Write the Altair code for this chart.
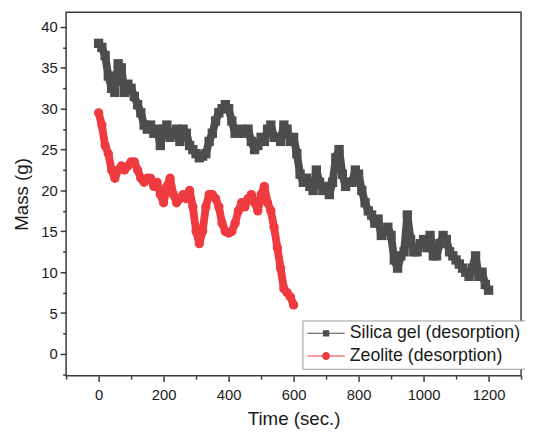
import altair as alt
import pandas as pd

SILICA = "Silica gel (desorption)"
ZEOLITE = "Zeolite (desorption)"

silica_time = list(range(0, 1201, 10))
silica_mass = [
    38, 37.5, 36.5, 34, 32.5, 32, 35.5, 35, 32, 33,
    32.5, 31.5, 30.5, 29.5, 28, 27.5, 28, 27, 27.5, 25.5,
    27.5, 28, 26.5, 27, 27.5, 26, 27.5, 27, 25.5, 25,
    24.5, 24, 24.2, 24.5, 26, 27, 28.5, 29.5, 30, 30.5,
    30, 28.5, 27, 27, 27.5, 27, 27.5, 26, 25, 25.5,
    26.5, 26, 27.5, 28, 26.5, 26.5, 26, 28, 27.5, 26,
    26.5, 24.5, 22, 21, 21.5, 20.5, 20, 22.5, 21, 20,
    20.5, 19.5, 21, 24, 25, 22, 20.5, 21, 21, 22.5,
    22, 20, 18.5, 17.5, 17, 16, 16.5, 14.5, 15, 15.5,
    14.5, 11.5, 10.5, 12, 12.5, 17, 14, 12.5, 12.5, 13.5,
    14, 13, 14.5, 12, 12, 13.5, 14.5, 14, 12.5, 12,
    11.5, 11, 10.5, 10, 9.5, 10.5, 12, 9.5, 10, 8.5,
    7.8,
]

zeolite_time = list(range(0, 601, 10))
zeolite_mass = [
    29.5, 28, 25.5, 24.5, 22.5, 21.5, 22.5, 23, 22.5, 23,
    23.5, 23.5, 22.5, 21.5, 21, 21.5, 21.5, 20.5, 21, 19.5,
    18.5, 20.5, 21.5, 19.5, 18.5, 19, 19.5, 19, 20, 18,
    15, 13.5, 15, 18, 19.5, 19.5, 19, 18, 16, 15,
    14.8, 15, 16, 17.5, 18.5, 18, 19, 19.5, 18.5, 17.5,
    19.5, 20.5, 18.5, 17.5, 15.5, 13, 10.5, 8, 7.5, 7,
    6,
]

x_ticks = [-100, 0, 100, 200, 300, 400, 500, 600, 700, 800, 900, 1000, 1100, 1200, 1300]
y_ticks = [-2.5, 0, 2.5, 5, 7.5, 10, 12.5, 15, 17.5, 20, 22.5, 25, 27.5, 30, 32.5, 35, 37.5, 40]

GRAY = "#4D4D4D"
RED = "#EF3B3F"
FONT = "Liberation Sans"
TXT = "#1a1a1a"
AX = "#3a3a3a"

df = pd.concat([
    pd.DataFrame({"time": silica_time, "mass": silica_mass, "series": SILICA}),
    pd.DataFrame({"time": zeolite_time, "mass": zeolite_mass, "series": ZEOLITE}),
], ignore_index=True)

x_enc = alt.X(
    "time:Q",
    title="Time (sec.)",
    scale=alt.Scale(domain=[-100, 1300], nice=False, zero=False),
    axis=alt.Axis(
        values=x_ticks, format="d",
        labelExpr="datum.value % 200 === 0 ? datum.label : ''",
        tickSize={"condition": {"test": "datum.value % 200 === 0", "value": 6}, "value": 3.5},
        tickWidth=1.5, tickColor=AX, domain=False, grid=False,
        labelFont=FONT, labelFontSize=15, labelColor=TXT, labelPadding=6,
        titleFont=FONT, titleFontSize=19, titleFontWeight="normal", titleColor=TXT,
        titlePadding=8,
    ),
)
y_enc = alt.Y(
    "mass:Q",
    title="Mass (g)",
    scale=alt.Scale(domain=[-2.65, 41.8], nice=False, zero=False),
    axis=alt.Axis(
        values=y_ticks,
        labelExpr="datum.value % 5 === 0 ? datum.label : ''",
        tickSize={"condition": {"test": "datum.value % 5 === 0", "value": 6}, "value": 3.5},
        tickWidth=1.5, tickColor=AX, domain=False, grid=False,
        labelFont=FONT, labelFontSize=15, labelColor=TXT, labelPadding=3,
        titleFont=FONT, titleFontSize=19, titleFontWeight="normal", titleColor=TXT,
        titlePadding=9,
    ),
)

base = alt.Chart(df)

def series_layers(name, color, shape, size, join):
    sub = base.transform_filter(alt.datum.series == name)
    line = sub.mark_line(color=color, strokeWidth=8, strokeJoin=join).encode(x=x_enc, y=y_enc)
    pts = sub.mark_point(shape=shape, filled=True, size=size, color=color, opacity=1).encode(x=x_enc, y=y_enc)
    return [line, pts]

PATH_S = "M-1,-0.055H3.75V0.055H-1Z M0.975,-0.4H1.775V0.4H0.975Z"
PATH_Z = "M-1,-0.055H3.75V0.055H-1Z M1.875,0A0.5,0.5,0,1,1,0.875,0A0.5,0.5,0,1,1,1.875,0Z"

leg = alt.Legend(
    title=None, orient="none", legendX=240, legendY=313,
    fillColor="white", strokeColor="#9a9a9a", padding=4, cornerRadius=0,
    symbolSize=256, symbolStrokeWidth=0, labelOffset=26, rowPadding=5,
    labelFont=FONT, labelFontSize=18, labelColor=TXT, labelLimit=400,
)

driver = base.transform_filter("false").mark_point(filled=True, opacity=1).encode(
    x=x_enc, y=y_enc,
    color=alt.Color("series:N", scale=alt.Scale(domain=[SILICA, ZEOLITE], range=[GRAY, RED]), legend=leg),
    shape=alt.Shape("series:N", scale=alt.Scale(domain=[SILICA, ZEOLITE], range=[PATH_S, PATH_Z]), legend=leg),
)

layers = series_layers(SILICA, GRAY, "square", 90, "bevel") + series_layers(ZEOLITE, RED, "circle", 90, "round") + [driver]

chart = alt.layer(*layers).properties(
    width=462, height=369,
    autosize=alt.AutoSizeParams(type="none"),
    padding={"left": 59, "top": 1, "right": 4, "bottom": 60},
).configure_view(stroke=AX, strokeWidth=1.5)

chart.save("out.html", embed_options={"renderer": "svg", "actions": False})
